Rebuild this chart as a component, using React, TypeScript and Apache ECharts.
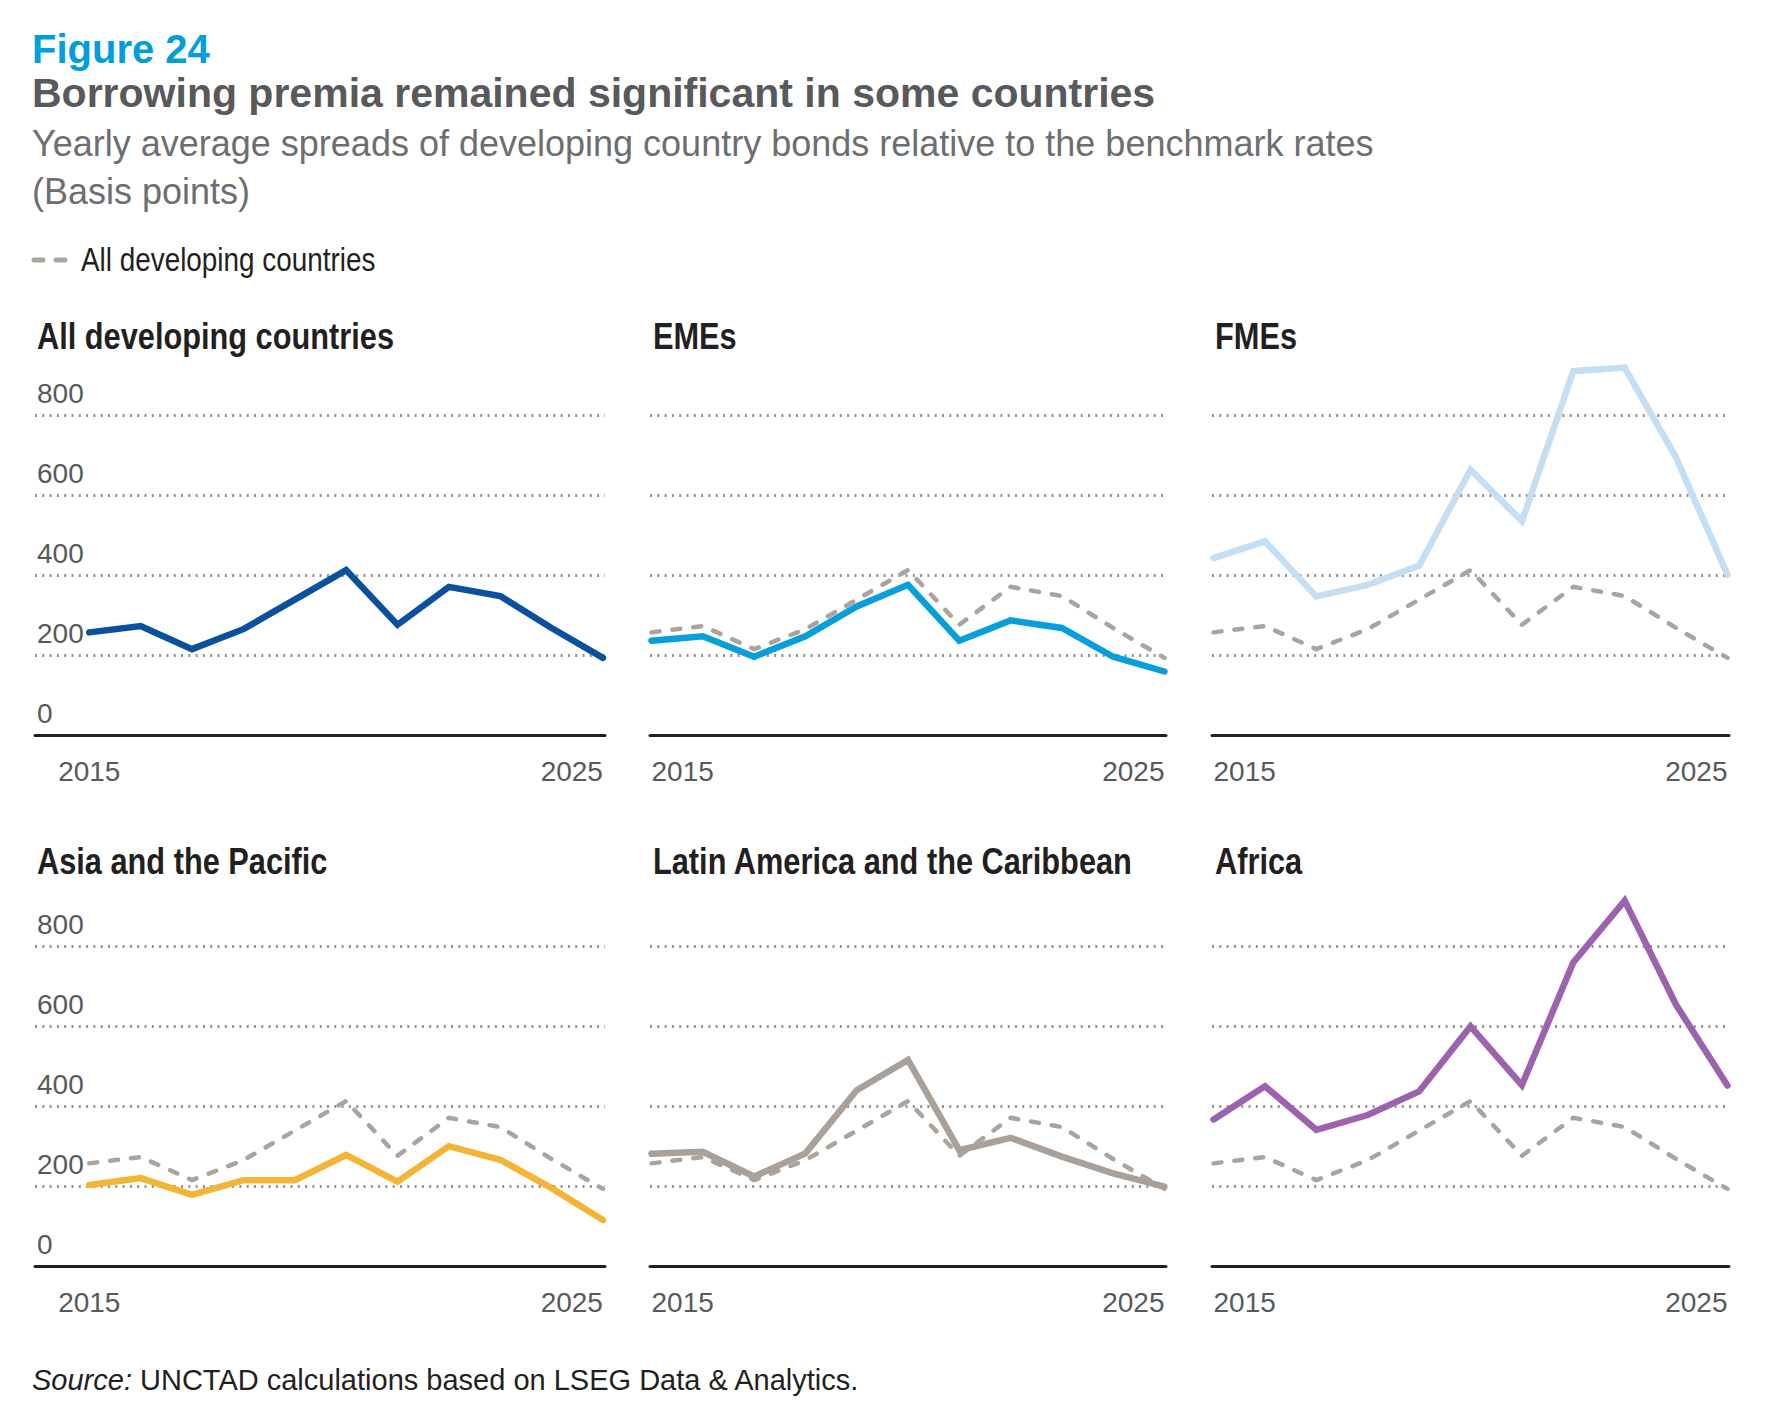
import React, { useEffect, useRef } from "react";
import * as echarts from "echarts";

// Yearly average spreads, basis points
const YEARS = [2015, 2016, 2017, 2018, 2019, 2020, 2021, 2022, 2023, 2024, 2025];
const ALL_DEVELOPING = [257, 273, 215, 265, 339, 413, 276, 371, 348, 268, 193];
const EMES = [236, 247, 196, 247, 322, 376, 236, 287, 268, 196, 159];
const FMES = [443, 485, 347, 376, 424, 664, 535, 911, 920, 695, 401];
const ASIA_PACIFIC = [203, 220, 178, 215, 215, 278, 211, 300, 266, 195, 115];
const LATIN_AMERICA = [281, 286, 224, 282, 440, 516, 290, 321, 274, 232, 199];
const AFRICA = [367, 450, 341, 378, 437, 600, 453, 760, 915, 654, 452];

const Y_MIN = 0;
const Y_MAX = 800;
const Y_STEP = 200;
const X_LABEL_YEARS = [2015, 2025];

const PANELS = [
  { title: "All developing countries", values: ALL_DEVELOPING, color: "#0a509c", benchmark: false, yLabels: true },
  { title: "EMEs", values: EMES, color: "#069fd9", benchmark: true, yLabels: false },
  { title: "FMEs", values: FMES, color: "#c4def3", benchmark: true, yLabels: false },
  { title: "Asia and the Pacific", values: ASIA_PACIFIC, color: "#f3b536", benchmark: true, yLabels: true },
  { title: "Latin America and the Caribbean", values: LATIN_AMERICA, color: "#a9a199", benchmark: true, yLabels: false },
  { title: "Africa", values: AFRICA, color: "#9c62ae", benchmark: true, yLabels: false },
];

// layout of the 3x2 small multiples
const COLS = [
  { left: 35, width: 570, min: 2013.943, max: 2025.04, titleX: 37, minAlign: "center" },
  { left: 650, width: 516, min: 2014.97, max: 2025.03, titleX: 653, minAlign: "left" },
  { left: 1212, width: 517, min: 2014.97, max: 2025.03, titleX: 1215, minAlign: "left" },
];
const ROWS = [
  { top: 415.5, height: 319.5, titleBaseline: 349 },
  { top: 946.5, height: 319.5, titleBaseline: 873.5 },
];

const SANS = "'Liberation Sans', Arial, Helvetica, sans-serif";
// condensed look: Liberation Sans squeezed horizontally
const NARROW_SCALE = 0.82;
const BENCH_COLOR = "#aca49c";
const TICK_SIZE = 28;

// y for a middle-aligned text whose alphabetic baseline must sit at `baseline`
const mid = (baseline: number, size: number) => baseline - 0.3465 * size;

function pairs(values: number[]) {
  return YEARS.map((y, i) => [y, values[i]]);
}

function buildOption() {
  const grid: any[] = [];
  const xAxis: any[] = [];
  const yAxis: any[] = [];
  const series: any[] = [];
  const graphic: any[] = [];

  PANELS.forEach((p, i) => {
    const col = COLS[i % 3];
    const row = ROWS[Math.floor(i / 3)];
    grid.push({ left: col.left, top: row.top, width: col.width, height: row.height });
    xAxis.push({
      type: "value",
      gridIndex: i,
      min: col.min,
      max: col.max,
      axisLine: { show: true, onZero: false, lineStyle: { color: "#231f20", width: 3 } },
      axisTick: { show: false },
      splitLine: { show: false },
      axisLabel: {
        customValues: X_LABEL_YEARS,
        formatter: (v: number) => String(Math.round(v)),
        margin: 22,
        fontSize: TICK_SIZE,
        lineHeight: TICK_SIZE,
        fontFamily: SANS,
        color: "#58595b",
        alignMinLabel: col.minAlign,
        alignMaxLabel: "right",
        showMinLabel: true,
        showMaxLabel: true,
      },
    });
    yAxis.push({
      type: "value",
      gridIndex: i,
      min: Y_MIN,
      max: Y_MAX,
      interval: Y_STEP,
      axisLine: { show: false },
      axisTick: { show: false },
      splitLine: {
        show: true,
        showMinLine: false,
        lineStyle: { color: "#939393", width: 3, type: [2, 5.3] },
      },
      axisLabel: {
        show: p.yLabels,
        inside: true,
        margin: 2,
        align: "left",
        verticalAlign: "bottom",
        padding: [0, 0, 8, 0],
        fontSize: TICK_SIZE,
        lineHeight: TICK_SIZE,
        fontFamily: SANS,
        color: "#58595b",
      },
    });
    if (p.benchmark) {
      series.push({
        name: "All developing countries",
        type: "line",
        xAxisIndex: i,
        yAxisIndex: i,
        data: pairs(ALL_DEVELOPING),
        symbol: "none",
        clip: false,
        silent: true,
        lineStyle: { color: BENCH_COLOR, width: 4.5, type: [8, 13], cap: "round", join: "round" },
      });
    }
    series.push({
      name: p.title,
      type: "line",
      xAxisIndex: i,
      yAxisIndex: i,
      data: pairs(p.values),
      symbol: "none",
      clip: false,
      silent: true,
      lineStyle: { color: p.color, width: 6.5, cap: "round", join: "miter" },
    });
    graphic.push({
      type: "text",
      x: col.titleX,
      y: mid(row.titleBaseline, 37.5),
      scaleX: NARROW_SCALE,
      style: {
        text: p.title,
        fontSize: 37.5,
        fontWeight: "bold",
        fontFamily: SANS,
        fill: "#231f20",
        verticalAlign: "middle",
        align: "left",
      },
    });
  });

  // header
  graphic.push(
    {
      type: "text",
      x: 32,
      y: mid(63.3, 40),
      style: { text: "Figure 24", fontSize: 40, fontWeight: "bold", fontFamily: SANS, fill: "#009edb", verticalAlign: "middle" },
    },
    {
      type: "text",
      x: 32,
      y: mid(107.7, 41),
      style: {
        text: "Borrowing premia remained significant in some countries",
        fontSize: 41,
        fontWeight: "bold",
        fontFamily: SANS,
        fill: "#58595b",
        verticalAlign: "middle",
      },
    },
    {
      type: "text",
      x: 32,
      y: mid(156, 36),
      style: {
        text: "Yearly average spreads of developing country bonds relative to the benchmark rates",
        fontSize: 36,
        fontFamily: SANS,
        fill: "#6d6e71",
        verticalAlign: "middle",
      },
    },
    {
      type: "text",
      x: 32,
      y: mid(204, 36),
      style: { text: "(Basis points)", fontSize: 36, fontFamily: SANS, fill: "#6d6e71", verticalAlign: "middle" },
    },
    // legend key: dashed benchmark line
    {
      type: "line",
      shape: { x1: 34, y1: 260, x2: 43, y2: 260 },
      style: { stroke: BENCH_COLOR, lineWidth: 5, lineCap: "round" },
    },
    {
      type: "line",
      shape: { x1: 56, y1: 260, x2: 65, y2: 260 },
      style: { stroke: BENCH_COLOR, lineWidth: 5, lineCap: "round" },
    },
    {
      type: "text",
      x: 81,
      y: mid(271, 34),
      scaleX: NARROW_SCALE,
      style: { text: "All developing countries", fontSize: 34, fontFamily: SANS, fill: "#231f20", verticalAlign: "middle" },
    },
    {
      type: "text",
      x: 32,
      y: mid(1390, 29),
      style: {
        text: "{i|Source:} UNCTAD calculations based on LSEG Data & Analytics.",
        fontSize: 29,
        fontFamily: SANS,
        fill: "#231f20",
        verticalAlign: "middle",
        rich: { i: { fontStyle: "italic", fontSize: 29, fontFamily: SANS, fill: "#231f20" } },
      },
    }
  );

  return { animation: false, backgroundColor: "#ffffff", grid, xAxis, yAxis, series, graphic };
}

export default function App() {
  const ref = useRef<HTMLDivElement>(null);
  useEffect(() => {
    if (!ref.current) return;
    const chart = echarts.init(ref.current, null, { renderer: "svg" });
    chart.setOption(buildOption() as any);
    return () => chart.dispose();
  }, []);
  return (
    <div
      ref={ref}
      style={{ position: "absolute", left: 0, top: 0, width: 1787, height: 1410, background: "#fff" }}
    />
  );
}
